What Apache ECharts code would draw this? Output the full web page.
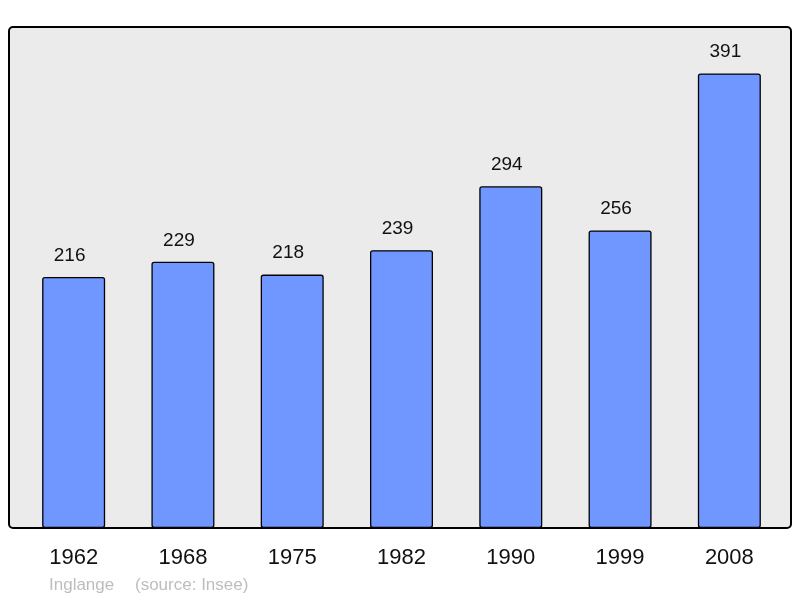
<!DOCTYPE html>
<html>
<head>
<meta charset="utf-8">
<script src="https://cdn.jsdelivr.net/npm/echarts@6/dist/echarts.min.js"></script>
<style>
  html, body { margin: 0; padding: 0; background: #fff; }
  #chart { width: 800px; height: 598px; }
</style>
</head>
<body>
<div id="chart"></div>
<script>
// population per census year
var years = ['1962', '1968', '1975', '1982', '1990', '1999', '2008'];
var population = [216, 229, 218, 239, 294, 256, 391];
var commune = 'Inglange';
var source = '(source: Insee)';

var chart = echarts.init(document.getElementById('chart'));
chart.setOption({
    animation: false,
    textStyle: { fontFamily: 'Liberation Sans, Arial, sans-serif' },
    grid: {
        left: 19,
        right: 16,
        top: 63,
        bottom: 70,
        containLabel: false
    },
    graphic: [
        {
            type: 'rect',
            z: -10,
            silent: true,
            shape: { x: 9, y: 27, width: 782, height: 501, r: 4 },
            style: { fill: '#ebebeb', stroke: '#000', lineWidth: 2 }
        },
        {
            type: 'text',
            left: 49,
            top: 577,
            silent: true,
            style: { text: commune, fill: '#bdbdbd', fontSize: 17, fontFamily: 'Liberation Sans' }
        },
        {
            type: 'text',
            left: 135,
            top: 577,
            silent: true,
            style: { text: source, fill: '#bdbdbd', fontSize: 17, fontFamily: 'Liberation Sans' }
        }
    ],
    xAxis: {
        type: 'category',
        data: years,
        axisLine: { show: false },
        axisTick: { show: false },
        axisLabel: { color: '#111', fontSize: 22, margin: 19 }
    },
    yAxis: {
        type: 'value',
        min: 0,
        max: 400,
        show: false,
        splitLine: { show: false }
    },
    series: [{
        type: 'bar',
        data: population,
        barWidth: 63,
        itemStyle: {
            color: '#7096ff',
            borderColor: '#000',
            borderWidth: 1.3,
            borderRadius: 2
        },
        label: {
            show: true,
            position: 'top',
            distance: 12,
            offset: [-4, 0],
            color: '#111',
            fontSize: 19
        }
    }]
});
</script>
</body>
</html>
